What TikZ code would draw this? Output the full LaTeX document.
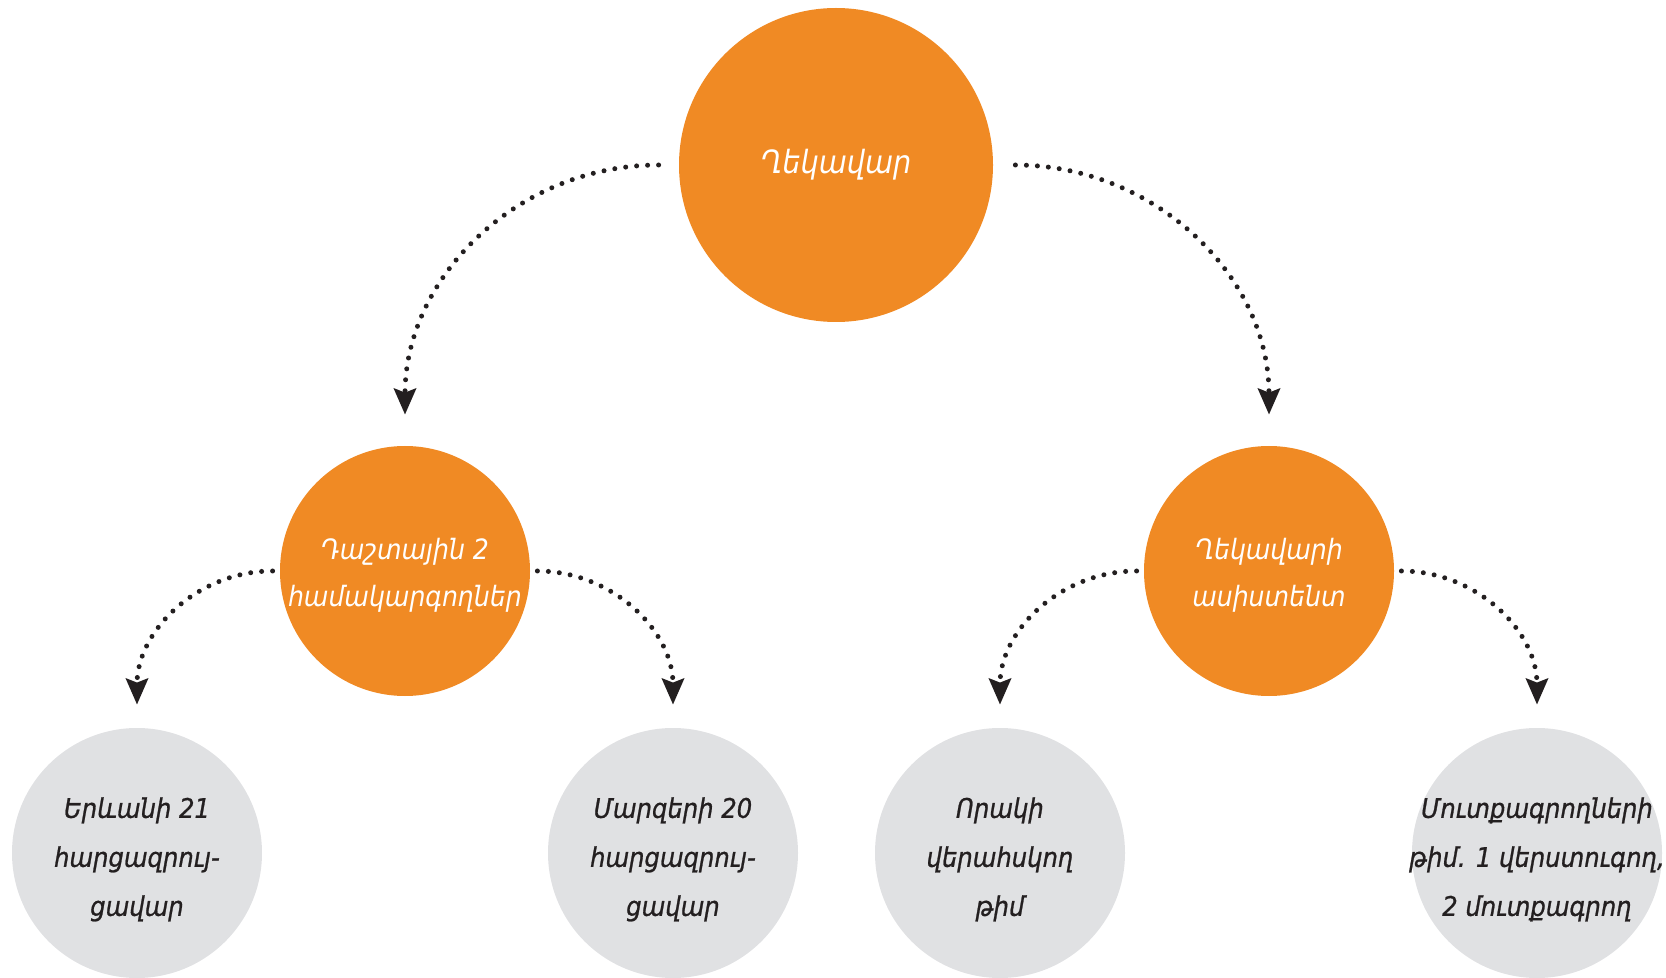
\documentclass[tikz,border=0pt]{standalone}
\usepackage{fontspec}
\newfontfamily\armfont{DejaVu Sans Condensed}
\newfontfamily\armheavy[FakeBold=0.9]{DejaVu Sans Condensed}
\usetikzlibrary{arrows.meta}

\definecolor{leadorange}{HTML}{F08A24}
\definecolor{teamgray}{HTML}{E0E1E3}
\definecolor{textdark}{HTML}{231F20}

\tikzset{
	chief/.style={circle, fill=leadorange, inner sep=0pt},
	chieftext/.style={text=white, align=center, inner sep=0pt},
	team/.style={circle, fill=teamgray, minimum size=125pt, inner sep=0pt},
	teamtext/.style={text=textdark, align=center, inner sep=0pt, yshift=-3.2pt,
		font=\armheavy\itshape\fontsize{13.5}{24.5}\selectfont},
	dotarrow/.style={textdark, line width=2.5pt, line cap=round, dash pattern=on 0pt off 5.5pt,
		-{Stealth[length=13pt,width=11pt,inset=2pt]}}
}

\begin{document}
\begin{tikzpicture}[x=0.5pt,y=-0.5pt]
				\useasboundingbox (0,0) rectangle (1666,978);
				\clip (0,0) rectangle (1666,978);
				% top level
				\node[chief, minimum size=157pt, label={[chieftext, font=\armfont\itshape\fontsize{16}{22}\selectfont]center:Ղեկավար}] (lead) at (836,165) {};
				% second level
				\node[chief, minimum size=125pt, label={[chieftext, yshift=-2pt, font=\armfont\itshape\fontsize{14}{23.5}\selectfont]center:{Դաշտային 2\\համակարգողներ}}] (fieldcoord) at (405,571) {};
				\node[chief, minimum size=125pt, label={[chieftext, yshift=-2pt, font=\armfont\itshape\fontsize{14}{23.5}\selectfont]center:{Ղեկավարի\\ասիստենտ}}] (assist) at (1269,571) {};
				% teams
				\node[team, label={[teamtext]center:{Երևանի 21\\հարցազրույ-\\ցավար}}] (yerevan) at (137,853) {};
				\node[team, label={[teamtext]center:{Մարզերի 20\\հարցազրույ-\\ցավար}}] (regions) at (673,853) {};
				\node[team, label={[teamtext]center:{Որակի\\վերահսկող\\թիմ}}] (quality) at (1000,853) {};
				\node[team, label={[teamtext]center:{Մուտքագրողների\\թիմ. 1 վերստուգող,\\2 մուտքագրող}}] (entry) at (1537,853) {};
				% connectors
				\draw[dotarrow] ([xshift=-10pt]lead.west) to[out=180,in=90] ([yshift=15.5pt]fieldcoord.north);
				\draw[dotarrow] ([xshift=11pt]lead.east) to[out=0,in=90] ([yshift=15.5pt]assist.north);
				\draw[dotarrow] ([xshift=-3.5pt]fieldcoord.west) to[out=180,in=90] ([yshift=11.5pt]yerevan.north);
				\draw[dotarrow] ([xshift=3.5pt]fieldcoord.east) to[out=0,in=90] ([yshift=11.5pt]regions.north);
				\draw[dotarrow] ([xshift=-3.5pt]assist.west) to[out=180,in=90] ([yshift=11.5pt]quality.north);
				\draw[dotarrow] ([xshift=3.5pt]assist.east) to[out=0,in=90] ([yshift=11.5pt]entry.north);
			\end{tikzpicture}
\end{document}
